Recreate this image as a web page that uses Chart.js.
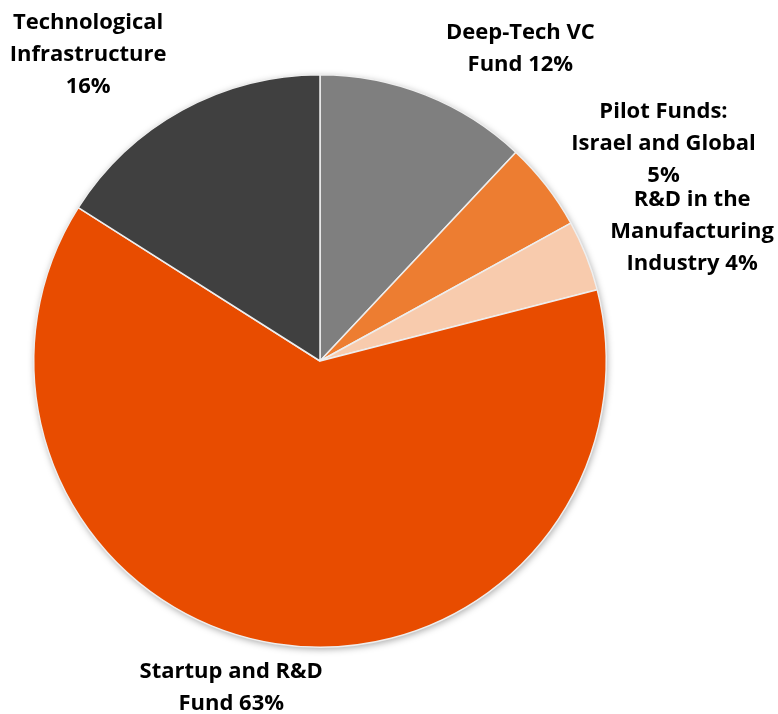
<!DOCTYPE html>
<html>
<head>
<meta charset="utf-8">
<script src="https://cdn.jsdelivr.net/npm/chart.js@4.4.1/dist/chart.umd.min.js"></script>
<style>
  html, body { margin: 0; padding: 0; background: #fff; }
  #wrap { width: 778px; height: 714px; position: relative; }
</style>
</head>
<body>
<div id="wrap"><canvas id="myChart"></canvas></div>
<script>
// funds and their share of the budget, clockwise from 12 o'clock
const categories = [
  ['Deep-Tech VC', 'Fund 12%'],
  ['Pilot Funds:', 'Israel and Global', '5%'],
  ['R&D in the', 'Manufacturing', 'Industry 4%'],
  ['Startup and R&D', 'Fund 63%'],
  ['Technological', 'Infrastructure', '16%']
]
const shares = [12, 5, 4, 63, 16]
const sliceColors = ['#7f7f7f', '#ed7d31', '#f8cbad', '#e84c00', '#404040']

// where each label block sits, relative to the pie centre, in radii
const labelSpots = [
  [0.70, -1.09],
  [1.20, -0.76],
  [1.30, -0.45],
  [-0.31, 1.14],
  [-0.81, -1.07]
]

// soft shadow behind the whole disc
const discShadow = {
  id: 'discShadow',
  beforeDatasetsDraw(chart) {
    const arc = chart.getDatasetMeta(0).data[0]
    if (!arc) return
    const ctx = chart.ctx
    ctx.save()
    ctx.shadowColor = 'rgba(0,0,0,0.35)'
    ctx.shadowBlur = 7
    ctx.shadowOffsetX = 1
    ctx.shadowOffsetY = 2
    ctx.fillStyle = '#ffffff'
    ctx.beginPath()
    ctx.arc(arc.x, arc.y, arc.outerRadius, 0, Math.PI * 2)
    ctx.fill()
    ctx.restore()
  }
}

const sliceLabels = {
  id: 'sliceLabels',
  afterDatasetsDraw(chart) {
    const meta = chart.getDatasetMeta(0)
    const ctx = chart.ctx
    const lineH = 32
    ctx.save()
    ctx.font = 'bold 22px "Open Sans"'
    ctx.fillStyle = '#000'
    ctx.textAlign = 'center'
    ctx.textBaseline = 'middle'
    meta.data.forEach((arc, i) => {
      const lines = chart.data.labels[i]
      const cx = arc.x + labelSpots[i][0] * arc.outerRadius
      const cy = arc.y + labelSpots[i][1] * arc.outerRadius
      const top = cy - (lines.length - 1) * lineH / 2
      lines.forEach((t, k) => ctx.fillText(t, cx, top + k * lineH))
    })
    ctx.restore()
  }
}

const ctx = document.getElementById('myChart')
new Chart(ctx, {
  type: 'pie',
  data: {
    labels: categories,
    datasets: [{
      data: shares,
      backgroundColor: sliceColors,
      borderColor: '#eeeeee',
      borderWidth: 1.5
    }]
  },
  options: {
    responsive: true,
    maintainAspectRatio: false,
    animation: false,
    layout: { padding: { left: 33, right: 171, top: 74, bottom: 66 } },
    plugins: {
      legend: { display: false },
      tooltip: { enabled: false }
    }
  },
  plugins: [discShadow, sliceLabels]
})
</script>
</body>
</html>
